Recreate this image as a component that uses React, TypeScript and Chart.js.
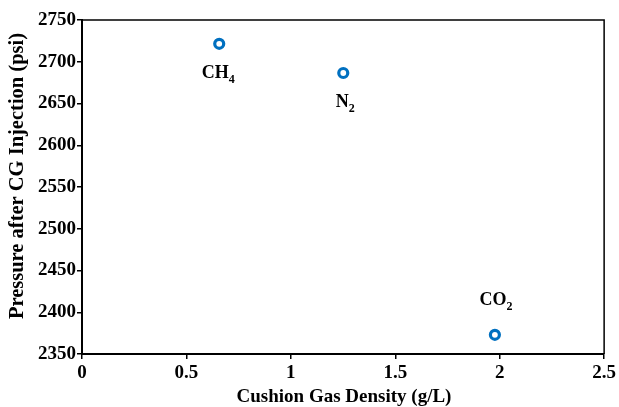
import React, { useEffect, useRef } from "react";
import { Chart, registerables } from "chart.js";

Chart.register(...registerables);

const gasNames = ["CH", "N", "CO"];
const gasSubs = ["4", "2", "2"];
const densities = [0.657, 1.251, 1.977];
const pressures = [2721.5, 2686.5, 2373];
const xTicks = [0, 0.5, 1, 1.5, 2, 2.5];
const yTicks = [2350, 2400, 2450, 2500, 2550, 2600, 2650, 2700, 2750];
const xTitle = "Cushion Gas Density (g/L)";
const yTitle = "Pressure after CG Injection (psi)";

const FONT = "'Liberation Serif', 'DejaVu Serif', serif";
const labelOffsets = [
  { dx: -1, dy: 34 },
  { dx: 2, dy: 34 },
  { dx: 1, dy: -30 },
];

const decorPlugin = {
  id: "decor",
  afterDraw(chart: any) {
    const { ctx, chartArea } = chart;
    const { left, right, top, bottom } = chartArea;
    ctx.save();
    ctx.strokeStyle = "#000";
    ctx.lineWidth = 1.5;
    ctx.beginPath();
    ctx.moveTo(left, top);
    ctx.lineTo(right, top);
    ctx.lineTo(right, bottom);
    ctx.stroke();

    ctx.fillStyle = "#000";
    ctx.textAlign = "center";
    ctx.textBaseline = "middle";
    ctx.font = `bold 19px ${FONT}`;
    ctx.fillText(xTitle, 344, 397);
    ctx.save();
    ctx.translate(18, 176);
    ctx.rotate(-Math.PI / 2);
    ctx.font = `bold 20.5px ${FONT}`;
    ctx.fillText(yTitle, 0, 0);
    ctx.restore();

    const meta = chart.getDatasetMeta(0);
    meta.data.forEach((pt: any, i: number) => {
      const off = labelOffsets[i];
      const mainFont = `bold 18px ${FONT}`;
      const subFont = `bold 12px ${FONT}`;
      ctx.font = mainFont;
      const wMain = ctx.measureText(gasNames[i]).width;
      ctx.font = subFont;
      const wSub = ctx.measureText(gasSubs[i]).width;
      const total = wMain + wSub;
      const x0 = pt.x + off.dx - total / 2;
      const base = pt.y + off.dy;
      ctx.textAlign = "left";
      ctx.textBaseline = "alphabetic";
      ctx.font = mainFont;
      ctx.fillText(gasNames[i], x0, base);
      ctx.font = subFont;
      ctx.fillText(gasSubs[i], x0 + wMain, base + 5);
    });
    ctx.restore();
  },
};

export default function App() {
  const ref = useRef<HTMLCanvasElement | null>(null);
  useEffect(() => {
    if (!ref.current) return;
    const chart = new Chart(ref.current, {
      type: "scatter",
      data: {
        datasets: [
          {
            label: "Pressure",
            data: densities.map((d, i) => ({ x: d, y: pressures[i] })),
            pointStyle: "circle",
            pointRadius: 4.5,
            pointHoverRadius: 4.5,
            pointBorderWidth: 3.2,
            pointBorderColor: "#0070C0",
            pointBackgroundColor: "#ffffff",
            showLine: false,
          },
        ],
      },
      options: {
        animation: false,
        responsive: true,
        maintainAspectRatio: false,
        layout: { padding: { left: 0, top: 20, right: 13.5, bottom: 0 } },
        plugins: {
          legend: { display: false },
          tooltip: { enabled: false },
          title: { display: false },
        },
        scales: {
          x: {
            type: "linear",
            min: 0,
            max: 2.5,
            afterBuildTicks: (scale: any) => {
              scale.ticks = xTicks.map((v) => ({ value: v }));
            },
            afterFit: (scale: any) => {
              scale.height = 53;
            },
            grid: {
              drawOnChartArea: false,
              drawTicks: true,
              tickLength: 5,
              color: "#000",
              lineWidth: 1.5,
            },
            border: { color: "#000", width: 2 },
            ticks: {
              color: "#000",
              padding: 3,
              font: { family: FONT, size: 19, weight: "bold" },
              maxRotation: 0,
              autoSkip: false,
              callback: (v: any) => String(v),
            },
          },
          y: {
            type: "linear",
            min: 2350,
            max: 2750,
            afterBuildTicks: (scale: any) => {
              scale.ticks = yTicks.map((v) => ({ value: v }));
            },
            afterFit: (scale: any) => {
              scale.width = 82;
            },
            grid: {
              drawOnChartArea: false,
              drawTicks: true,
              tickLength: 5,
              color: "#000",
              lineWidth: 1.5,
            },
            border: { color: "#000", width: 2 },
            ticks: {
              color: "#000",
              padding: 1,
              font: { family: FONT, size: 19, weight: "bold" },
              autoSkip: false,
              callback: (v: any) => String(v),
            },
          },
        },
      },
      plugins: [decorPlugin],
    });
    return () => chart.destroy();
  }, []);
  return (
    <div style={{ position: "fixed", left: 0, top: 0, width: 619, height: 407, background: "#fff" }}>
      <canvas ref={ref} />
    </div>
  );
}
